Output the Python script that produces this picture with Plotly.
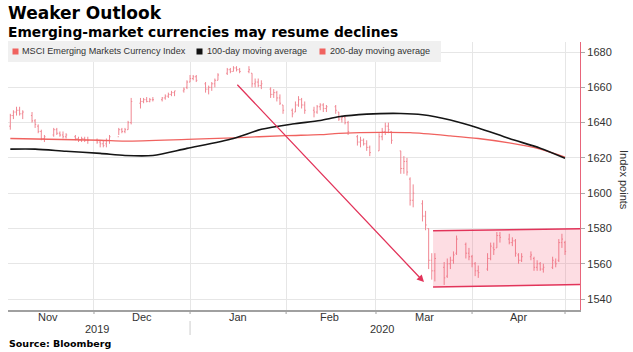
import plotly.graph_objects as go
import pandas as pd

# ---------------- data ----------------
dates = pd.bdate_range("2019-11-04", "2020-05-01")

open_ = [1638, 1644, 1646, 1647, 1645,
         1644, 1641, 1638, 1635, 1631,
         1633, 1636, 1634, 1633, 1632,
         1632, 1631, 1630, 1631, 1630,
         1630, 1629, 1628, 1628, 1630,
         1632, 1636, 1635, 1636, 1640,
         1651, 1652, 1653, 1652, 1653,
         1653, 1654, 1655, 1656, 1657,
         1658, 1660, 1663, 1665, 1666,
         1662, 1659, 1660, 1662, 1664,
         1668, 1670, 1669, 1671, 1670,
         1669, 1668, 1662, 1663, 1661,
         1659, 1656, 1657, 1654, 1650,
         1647, 1646, 1650, 1653, 1650,
         1647, 1646, 1649, 1650, 1648,
         1649, 1646, 1642, 1643, 1640,
         1632, 1629, 1630, 1628, 1626,
         1624, 1632, 1635, 1638, 1635,
         1624, 1614, 1618, 1608, 1596,
         1594, 1587, 1580, 1562, 1556,
         1558, 1553, 1560, 1562, 1566,
         1571, 1566, 1564, 1560, 1556,
         1557, 1563, 1569, 1569, 1576,
         1574, 1572, 1573, 1565, 1562,
         1564, 1563, 1558, 1560, 1557,
         1558, 1561, 1562, 1572, 1572]
high = [1645, 1647, 1649, 1649, 1647,
        1646, 1642, 1639, 1636, 1633,
        1637, 1637, 1635, 1635, 1634,
        1633, 1632, 1632, 1632, 1632,
        1631, 1630, 1630, 1631, 1633,
        1637, 1637, 1637, 1641, 1654,
        1654, 1654, 1654.5, 1654, 1654.5,
        1654.5, 1656, 1657, 1658, 1658,
        1660, 1664, 1667, 1667, 1667,
        1663, 1661, 1663, 1665, 1668,
        1671, 1671, 1672, 1672, 1671,
        1672, 1668, 1665, 1665, 1664,
        1660, 1659, 1658, 1656, 1650,
        1648, 1652, 1655, 1654, 1652,
        1649, 1650, 1651, 1651, 1650,
        1650, 1646, 1644, 1644, 1641,
        1633, 1632, 1631, 1630, 1627,
        1634, 1637, 1640, 1640, 1635,
        1624, 1621, 1620, 1609, 1605,
        1596, 1590, 1580, 1566, 1566,
        1561, 1563, 1564, 1567, 1576,
        1572, 1569, 1565, 1561, 1559,
        1566, 1572, 1572, 1578, 1578,
        1577, 1575, 1574, 1566, 1566,
        1567, 1564, 1562, 1561, 1560,
        1564, 1563, 1574, 1577, 1573]
low = [1636, 1642, 1644, 1644, 1642,
       1640, 1637, 1634, 1630, 1629,
       1632, 1633, 1632, 1631, 1631,
       1630, 1629, 1629, 1629, 1628,
       1628, 1626, 1626, 1626, 1628,
       1633, 1634, 1634, 1636, 1639,
       1648, 1651, 1651.5, 1651.5, 1652,
       1652, 1653, 1654, 1655, 1655,
       1657, 1659, 1663, 1664, 1663,
       1657, 1656, 1658, 1660, 1664,
       1667, 1668, 1669, 1669, 1668,
       1668, 1660, 1660, 1660, 1659,
       1654, 1654, 1652, 1650, 1645,
       1643, 1646, 1649, 1648, 1645,
       1643, 1645, 1647, 1646, 1646,
       1645, 1641, 1640, 1639, 1633,
       1627, 1626, 1627, 1624, 1621,
       1624, 1630, 1633, 1634, 1628,
       1611, 1611, 1610, 1593, 1592,
       1584, 1579, 1557, 1551, 1550,
       1548, 1552, 1557, 1560, 1565,
       1563, 1562, 1558, 1553, 1552,
       1556, 1562, 1565, 1569, 1572,
       1571, 1570, 1564, 1560, 1561,
       1562, 1556, 1556, 1556, 1555,
       1557, 1558, 1561, 1569, 1565]
close = [1644, 1646, 1647, 1645, 1646,
         1641, 1639, 1635, 1631, 1632,
         1636, 1634, 1633, 1632, 1633,
         1631, 1630, 1631, 1630, 1630,
         1629, 1628, 1627, 1630, 1632,
         1636, 1635, 1636, 1640, 1652,
         1652, 1653, 1652, 1653, 1653,
         1654, 1655, 1656, 1657, 1658,
         1659, 1663, 1665, 1666, 1664,
         1659, 1660, 1662, 1664, 1667,
         1670, 1669, 1671, 1670, 1669,
         1670, 1662, 1663, 1661, 1662,
         1656, 1657, 1654, 1651, 1647,
         1645, 1650, 1653, 1650, 1647,
         1646, 1649, 1650, 1648, 1649,
         1647, 1642, 1643, 1640, 1635,
         1629, 1630, 1628, 1626, 1623,
         1632, 1635, 1638, 1636, 1630,
         1614, 1618, 1612, 1596, 1600,
         1587, 1582, 1562, 1556, 1563,
         1552, 1560, 1562, 1565, 1574,
         1566, 1564, 1560, 1556, 1555,
         1563, 1570, 1568, 1576, 1575,
         1572, 1573, 1566, 1562, 1564,
         1565, 1558, 1560, 1557, 1558,
         1562, 1560, 1572, 1574, 1567]

ma100_dates = ["2019-11-04", "2019-11-12", "2019-11-22", "2019-12-03", "2019-12-11",
               "2019-12-20", "2019-12-31", "2020-01-15", "2020-01-24", "2020-02-03",
               "2020-02-12", "2020-02-18", "2020-02-27", "2020-03-09", "2020-03-16",
               "2020-03-25", "2020-04-03", "2020-04-13", "2020-04-23", "2020-05-01"]
ma100 = [1625.0, 1625.0, 1623.8, 1622.6, 1621.4,
         1621.4, 1625.4, 1631.0, 1636.2, 1639.2,
         1641.2, 1643.3, 1644.8, 1645.2, 1644.5,
         1641.5, 1637.0, 1631.0, 1625.5, 1619.8]

ma200_dates = ["2019-11-04", "2019-12-03", "2019-12-11", "2019-12-31", "2020-01-15",
               "2020-02-01", "2020-02-12", "2020-02-18", "2020-03-03", "2020-03-12",
               "2020-03-25", "2020-04-03", "2020-04-13", "2020-04-23", "2020-05-01"]
ma200 = [1631.0, 1630.0, 1629.5, 1630.5, 1631.4,
         1632.6, 1633.2, 1633.9, 1634.5, 1634.3,
         1632.5, 1631.0, 1628.5, 1625.0, 1620.5]

month_ticks = ["2019-12-01", "2020-01-01", "2020-02-01",
               "2020-03-01", "2020-04-01", "2020-05-01"]
month_labels = ["Nov", "Dec", "Jan", "Feb", "Mar", "Apr"]
month_label_dates = ["2019-11-16", "2019-12-16 12:00", "2020-01-16 12:00",
                     "2020-02-15", "2020-03-16 12:00", "2020-04-16"]
year_labels = ["2019", "2020"]
year_label_dates = ["2019-12-02", "2020-03-03"]
year_separator = "2020-01-01"

legend_names = ["MSCI Emerging Markets Currency Index", "100-day moving average",
                "200-day moving average"]

# range box + arrow (annotation geometry in data units)
box_x0, box_x1 = "2020-03-19_10:00", "2020-05-05_20:00"
box_bottom = (1546.8, 1548.3)
box_top = (1578.7, 1579.8)
arrow_from = ("2020-01-15 19:00", 1662.3)
arrow_to = ("2020-03-16 12:00", 1549.6)

# ---------------- style ----------------
BAR = "#f08792"
RED = "#f0625f"
CRIMSON = "#e2345a"
X_RANGE = ["2019-11-03 06:00", "2020-05-05 20:00"]
Y_RANGE = [1533.8, 1685.7]

L, R, T, B = 8, 580, 42, 310
W, H = 633, 352


def px(x):
    return (x - L) / (R - L)


def py(y):
    return (B - y) / (B - T)


fig = go.Figure()

fig.add_trace(go.Ohlc(
    x=dates, open=open_, high=high, low=low, close=close,
    increasing=dict(line=dict(color=BAR, width=1)),
    decreasing=dict(line=dict(color=BAR, width=1)),
    tickwidth=0.35, showlegend=False, hoverinfo="skip"))

fig.add_trace(go.Scatter(
    x=ma200_dates, y=ma200, mode="lines",
    line=dict(color=RED, width=1.3, shape="spline", smoothing=0.8),
    showlegend=False, hoverinfo="skip"))

fig.add_trace(go.Scatter(
    x=ma100_dates, y=ma100, mode="lines",
    line=dict(color="#151515", width=1.6, shape="spline", smoothing=0.8),
    showlegend=False, hoverinfo="skip"))

shapes = []
# range box fill
shapes.append(dict(
    type="path", xref="x", yref="y", layer="above", line=dict(width=0),
    fillcolor="rgba(244,86,116,0.20)",
    path=f"M {box_x0},{box_bottom[0]} L {box_x1},{box_bottom[1]} "
         f"L {box_x1},{box_top[1]} L {box_x0},{box_top[0]} Z"))
shapes.append(dict(type="line", xref="x", yref="y", layer="above",
                   x0=box_x0.replace("_", " "), x1=box_x1.replace("_", " "),
                   y0=box_top[0], y1=box_top[1], line=dict(color=CRIMSON, width=1.5)))
shapes.append(dict(type="line", xref="x", yref="y", layer="above",
                   x0=box_x0.replace("_", " "), x1=box_x1.replace("_", " "),
                   y0=box_bottom[0], y1=box_bottom[1], line=dict(color=CRIMSON, width=1.5)))

# legend band
shapes.append(dict(type="rect", xref="paper", yref="paper", layer="above",
                   x0=px(8), x1=px(441), y0=py(62), y1=py(41),
                   fillcolor="#f0f0f0", line=dict(width=0)))
legend_sq = [(12.5, RED), (196.5, "#111111"), (319.5, RED)]
legend_tx = [20, 205, 328]
for (sx, c) in legend_sq:
    shapes.append(dict(type="rect", xref="paper", yref="paper", layer="above",
                       x0=px(sx), x1=px(sx + 6), y0=py(54.5), y1=py(48.5),
                       fillcolor=c, line=dict(width=0)))

# month tick marks below the axis line
for mt in month_ticks:
    shapes.append(dict(type="line", xref="x", yref="paper", x0=mt, x1=mt,
                       y0=py(310), y1=py(314), line=dict(color="#a0a0a0", width=1)))

# year separator
shapes.append(dict(type="line", xref="x", yref="paper",
                   x0=year_separator, x1=year_separator,
                   y0=py(321), y1=py(335), line=dict(color="#cccccc", width=1)))

annotations = []
annotations.append(dict(text="<b>Weaker Outlook</b>", xref="paper", yref="paper",
                        x=px(6), y=py(13), xanchor="left", yanchor="middle",
                        showarrow=False,
                        font=dict(family="DejaVu Sans", size=17, color="#000")))
annotations.append(dict(text="<b>Emerging-market currencies may resume declines</b>",
                        xref="paper", yref="paper", x=px(6), y=py(32),
                        xanchor="left", yanchor="middle", showarrow=False,
                        font=dict(family="DejaVu Sans", size=13.8, color="#000")))
annotations.append(dict(text="<b>Source: Bloomberg</b>", xref="paper", yref="paper",
                        x=px(7), y=py(343), xanchor="left", yanchor="middle",
                        showarrow=False,
                        font=dict(family="DejaVu Sans", size=9.5, color="#000")))
for name, tx in zip(legend_names, legend_tx):
    annotations.append(dict(text=name, xref="paper", yref="paper", x=px(tx), y=py(51.5),
                            xanchor="left", yanchor="middle", showarrow=False,
                            font=dict(family="Liberation Sans", size=9.1, color="#333")))
for ml, md in zip(month_labels, month_label_dates):
    annotations.append(dict(text=ml, xref="x", yref="paper", x=md, y=py(317),
                            xanchor="center", yanchor="middle", showarrow=False,
                            font=dict(family="Liberation Sans", size=11, color="#333")))
for yl, yd in zip(year_labels, year_label_dates):
    annotations.append(dict(text=yl, xref="x", yref="paper", x=yd, y=py(328.5),
                            xanchor="center", yanchor="middle", showarrow=False,
                            font=dict(family="Liberation Sans", size=11, color="#333")))
annotations.append(dict(text="Index points", xref="paper", yref="paper",
                        x=px(624), y=py(180), xanchor="center", yanchor="middle",
                        textangle=90, showarrow=False,
                        font=dict(family="Liberation Sans", size=11, color="#333")))
annotations.append(dict(text="", xref="x", yref="y", axref="x", ayref="y",
                        x=arrow_to[0], y=arrow_to[1], ax=arrow_from[0], ay=arrow_from[1],
                        showarrow=True, arrowhead=2, arrowsize=1.1, arrowwidth=1.3,
                        arrowcolor=CRIMSON))

fig.update_layout(
    width=W, height=H,
    margin=dict(l=L, r=W - R, t=T, b=H - B),
    paper_bgcolor="white", plot_bgcolor="white",
    shapes=shapes, annotations=annotations,
    showlegend=False,
    xaxis=dict(type="date", range=X_RANGE, rangeslider=dict(visible=False),
               tickvals=month_ticks, showticklabels=False,
               showgrid=True, gridcolor="#e6e6e6", gridwidth=1,
               showline=True, linecolor="#a0a0a0", linewidth=1.5,
               ticks="", zeroline=False, fixedrange=True),
    yaxis=dict(side="right", range=Y_RANGE, dtick=20, tick0=1540,
               showgrid=True, gridcolor="#e6e6e6", gridwidth=1,
               showline=True, linecolor="#e8647a", linewidth=1.2,
               ticks="outside", ticklen=4, tickcolor="#aaaaaa",
               tickfont=dict(family="Liberation Sans", size=11, color="#333"),
               zeroline=False, fixedrange=True),
)

fig.write_html("out.html")
